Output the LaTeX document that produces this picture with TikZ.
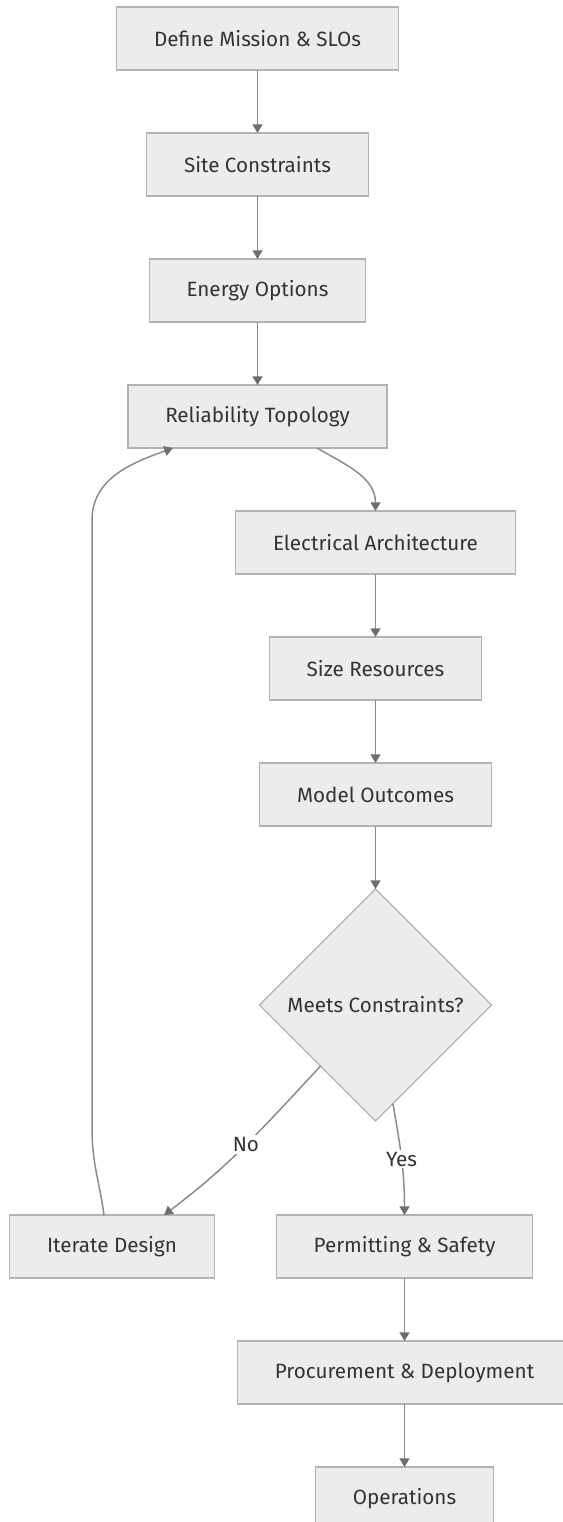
\documentclass[tikz,border=0pt]{standalone}
\usepackage{fontspec}
\setmainfont{Fira Sans}
\usetikzlibrary{shapes.geometric, arrows.meta, positioning}
\definecolor{boxfill}{HTML}{ECECEC}
\definecolor{boxline}{HTML}{B3B3B3}
\definecolor{edgeline}{HTML}{8A8A8A}
\definecolor{tipfill}{HTML}{6E6E6E}
\definecolor{textgray}{HTML}{333333}
\tikzset{
  stepbox/.style={rectangle, minimum height=47.25pt, inner xsep=28pt, outer sep=0pt,
    draw=boxline, line width=0.9pt, fill=boxfill, text=textgray,
    text centered, font=\fontsize{15.5pt}{18pt}\selectfont},
  decision/.style={diamond, aspect=1, minimum width=174pt, minimum height=174pt,
    inner sep=0pt, outer sep=0pt, draw=boxline, line width=0.9pt, fill=boxfill,
    text=textgray, text centered, font=\fontsize{15.5pt}{18pt}\selectfont},
  arrow/.style={-{Triangle[length=6.5pt,width=7.5pt,color=tipfill]}, draw=edgeline,
    line width=1.1pt},
  edgelabel/.style={fill=white, inner sep=1.5pt, text=textgray,
    font=\fontsize{15.5pt}{18pt}\selectfont}
}
\begin{document}
\begin{tikzpicture}[x=0.75pt, y=-0.75pt, node distance=47.25pt]
\useasboundingbox (0,0) rectangle (563,1522);
\node (mission) [stepbox] at (257.5,38.5)          {Define Mission \& SLOs};
\node (site)    [stepbox, below=of mission]        {Site Constraints};
\node (energy)  [stepbox, below=of site]           {Energy Options};
\node (rel)     [stepbox, below=of energy]         {Reliability Topology};
\node (elec)    [stepbox, below=of rel, xshift=88.5pt] {Electrical Architecture};
\node (size)    [stepbox, below=of elec]           {Size Resources};
\node (model)   [stepbox, below=of size]           {Model Outcomes};
\node (meets)   [decision, below=of model]         {Meets Constraints?};
\node (permit)  [stepbox, below=70.5pt of meets, xshift=21.75pt] {Permitting \& Safety};
\node (iter)    [stepbox, left=46.5pt of permit]   {Iterate Design};
\node (proc)    [stepbox, below=of permit]         {Procurement \& Deployment};
\node (ops)     [stepbox, below=of proc]           {Operations};

\draw [arrow] (mission) -- (site);
\draw [arrow] (site)    -- (energy);
\draw [arrow] (energy)  -- (rel);
\draw [arrow] ([xshift=44.6pt]rel.south) to[out=-30,in=90] (elec.north);
\draw [arrow] (elec)    -- (size);
\draw [arrow] (size)    -- (model);
\draw [arrow] (model)   -- (meets);
\draw [arrow] (meets.228) to[out=-133,in=37] node[edgelabel]{No} ([xshift=39pt]iter.north);
\draw [arrow] (meets.-80) to[out=-80,in=90] node[edgelabel]{Yes} (permit.north);
\draw [arrow] (permit)  -- (proc);
\draw [arrow] (proc)    -- (ops);
% back to the topology step
\coordinate (loopbot) at ([xshift=-15pt,yshift=64.5pt]iter.north);
\coordinate (looptop) at ([yshift=-54pt]loopbot |- rel.south);
\draw [arrow] ([xshift=-6pt]iter.north) to[out=98,in=-90] (loopbot) -- (looptop)
  to[out=90,in=200] ([xshift=-63.4pt]rel.south);
\end{tikzpicture}
\end{document}
